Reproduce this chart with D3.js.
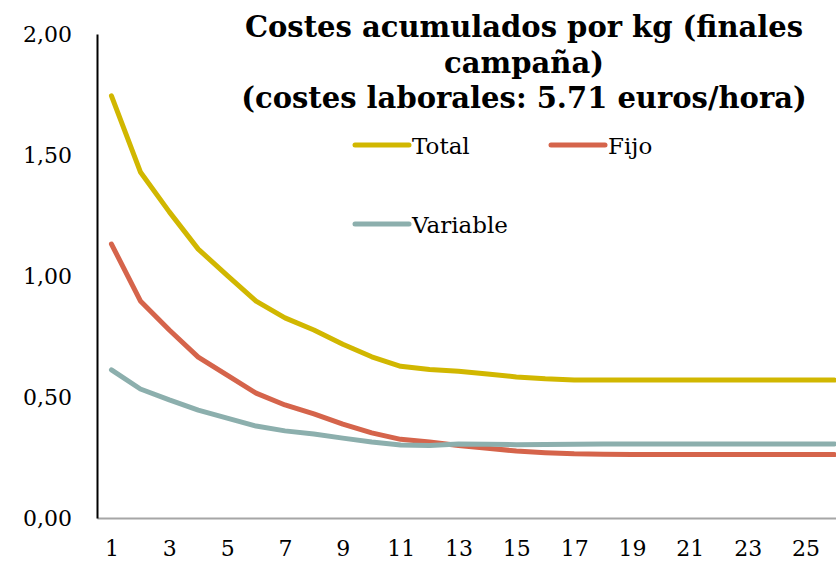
<html>
    <body style="margin:0">
        <script src="https://d3js.org/d3.v7.min.js"></script>

        <div id="my_dataviz"></div>

        <script>
            // data
            var categories = d3.range(1, 27);
            var total = [1.744, 1.43, 1.265, 1.111, 1.003, 0.896, 0.827, 0.777, 0.718, 0.666, 0.627, 0.614, 0.606, 0.595, 0.583, 0.575, 0.570, 0.570, 0.570, 0.570, 0.570, 0.570, 0.570, 0.570, 0.570, 0.570];
            var fijo = [1.132, 0.897, 0.777, 0.665, 0.590, 0.516, 0.467, 0.430, 0.388, 0.352, 0.325, 0.314, 0.300, 0.288, 0.277, 0.270, 0.265, 0.263, 0.262, 0.262, 0.262, 0.262, 0.262, 0.262, 0.262, 0.262];
            var variable = [0.612, 0.533, 0.488, 0.446, 0.413, 0.380, 0.360, 0.347, 0.330, 0.314, 0.302, 0.300, 0.306, 0.305, 0.303, 0.304, 0.305, 0.306, 0.306, 0.306, 0.306, 0.306, 0.306, 0.306, 0.306, 0.306];
            var yTicks = [0, 0.5, 1, 1.5, 2];
            var xTicks = [1, 3, 5, 7, 9, 11, 13, 15, 17, 19, 21, 23, 25];
            var seriesNames = ["Total", "Fijo", "Variable"];
            var seriesColors = ["#d1b700", "#d5644b", "#8cafad"];
            var titleLines = ["Costes acumulados por kg (finales", "campaña)", "(costes laborales: 5.71 euros/hora)"];

            var width = 836, height = 561;
            var margin = {top: 34, left: 97, bottom: 43};

            var svg = d3.select("#my_dataviz")
              .append("svg")
                .attr("width", width)
                .attr("height", height)
                .style("font-family", "'DejaVu Serif', serif");

            var x = d3.scaleLinear()
              .domain([0.5, 26.5])
              .range([margin.left, margin.left + 26 * 28.92]);

            var y = d3.scaleLinear()
              .domain([0, 2])
              .range([height - margin.bottom, margin.top]);

            // x axis
            var xAxis = svg.append("g")
              .attr("transform", "translate(0," + y(0) + ")")
              .call(d3.axisBottom(x).tickValues(xTicks).tickSize(0).tickPadding(22).tickFormat(d3.format("d")));
            xAxis.select(".domain").attr("stroke", "#a6a6a6").attr("stroke-width", 2);
            xAxis.selectAll("text")
              .style("font-size", "22px")
              .style("font-family", "'DejaVu Serif', serif")
              .attr("fill", "#000");

            // y axis
            var yAxis = svg.append("g")
              .attr("transform", "translate(" + margin.left + ",0)")
              .call(d3.axisLeft(y).tickValues(yTicks).tickSize(0).tickPadding(25)
                .tickFormat(function(d) { return d3.format(".2f")(d).replace(".", ","); }));
            yAxis.select(".domain").attr("stroke", "#000").attr("stroke-width", 2);
            yAxis.selectAll("text")
              .style("font-size", "22px")
              .style("font-family", "'DejaVu Serif', serif")
              .attr("fill", "#000");

            // lines
            var allSeries = [total, fijo, variable];
            var line = d3.line()
              .x(function(d, i) { return x(categories[i]); })
              .y(function(d) { return y(d); });

            svg.selectAll(".serie")
              .data(allSeries)
              .enter()
              .append("path")
                .attr("d", line)
                .attr("fill", "none")
                .attr("stroke", function(d, i) { return seriesColors[i]; })
                .attr("stroke-width", 5)
                .attr("stroke-linejoin", "round")
                .attr("stroke-linecap", "round");

            // title
            svg.append("text")
              .attr("x", 524)
              .attr("y", 37)
              .attr("text-anchor", "middle")
              .style("font-weight", "bold")
              .style("font-size", "29px")
              .selectAll("tspan")
              .data(titleLines)
              .enter()
              .append("tspan")
                .attr("x", 524)
                .attr("dy", function(d, i) { return i === 0 ? 0 : 35.5; })
                .text(function(d) { return d; });

            // legend
            var legendPos = [[353, 145], [549, 145], [353, 224]];
            var legend = svg.selectAll(".legend")
              .data(seriesNames)
              .enter()
              .append("g")
                .attr("transform", function(d, i) { return "translate(" + legendPos[i][0] + "," + legendPos[i][1] + ")"; });
            legend.append("line")
              .attr("x1", 2).attr("x2", 56)
              .attr("stroke", function(d, i) { return seriesColors[i]; })
              .attr("stroke-width", 5)
              .attr("stroke-linecap", "round");
            legend.append("text")
              .attr("x", 59)
              .attr("y", 9)
              .style("font-size", "23px")
              .text(function(d) { return d; });
        </script>
    </body>
</html>
